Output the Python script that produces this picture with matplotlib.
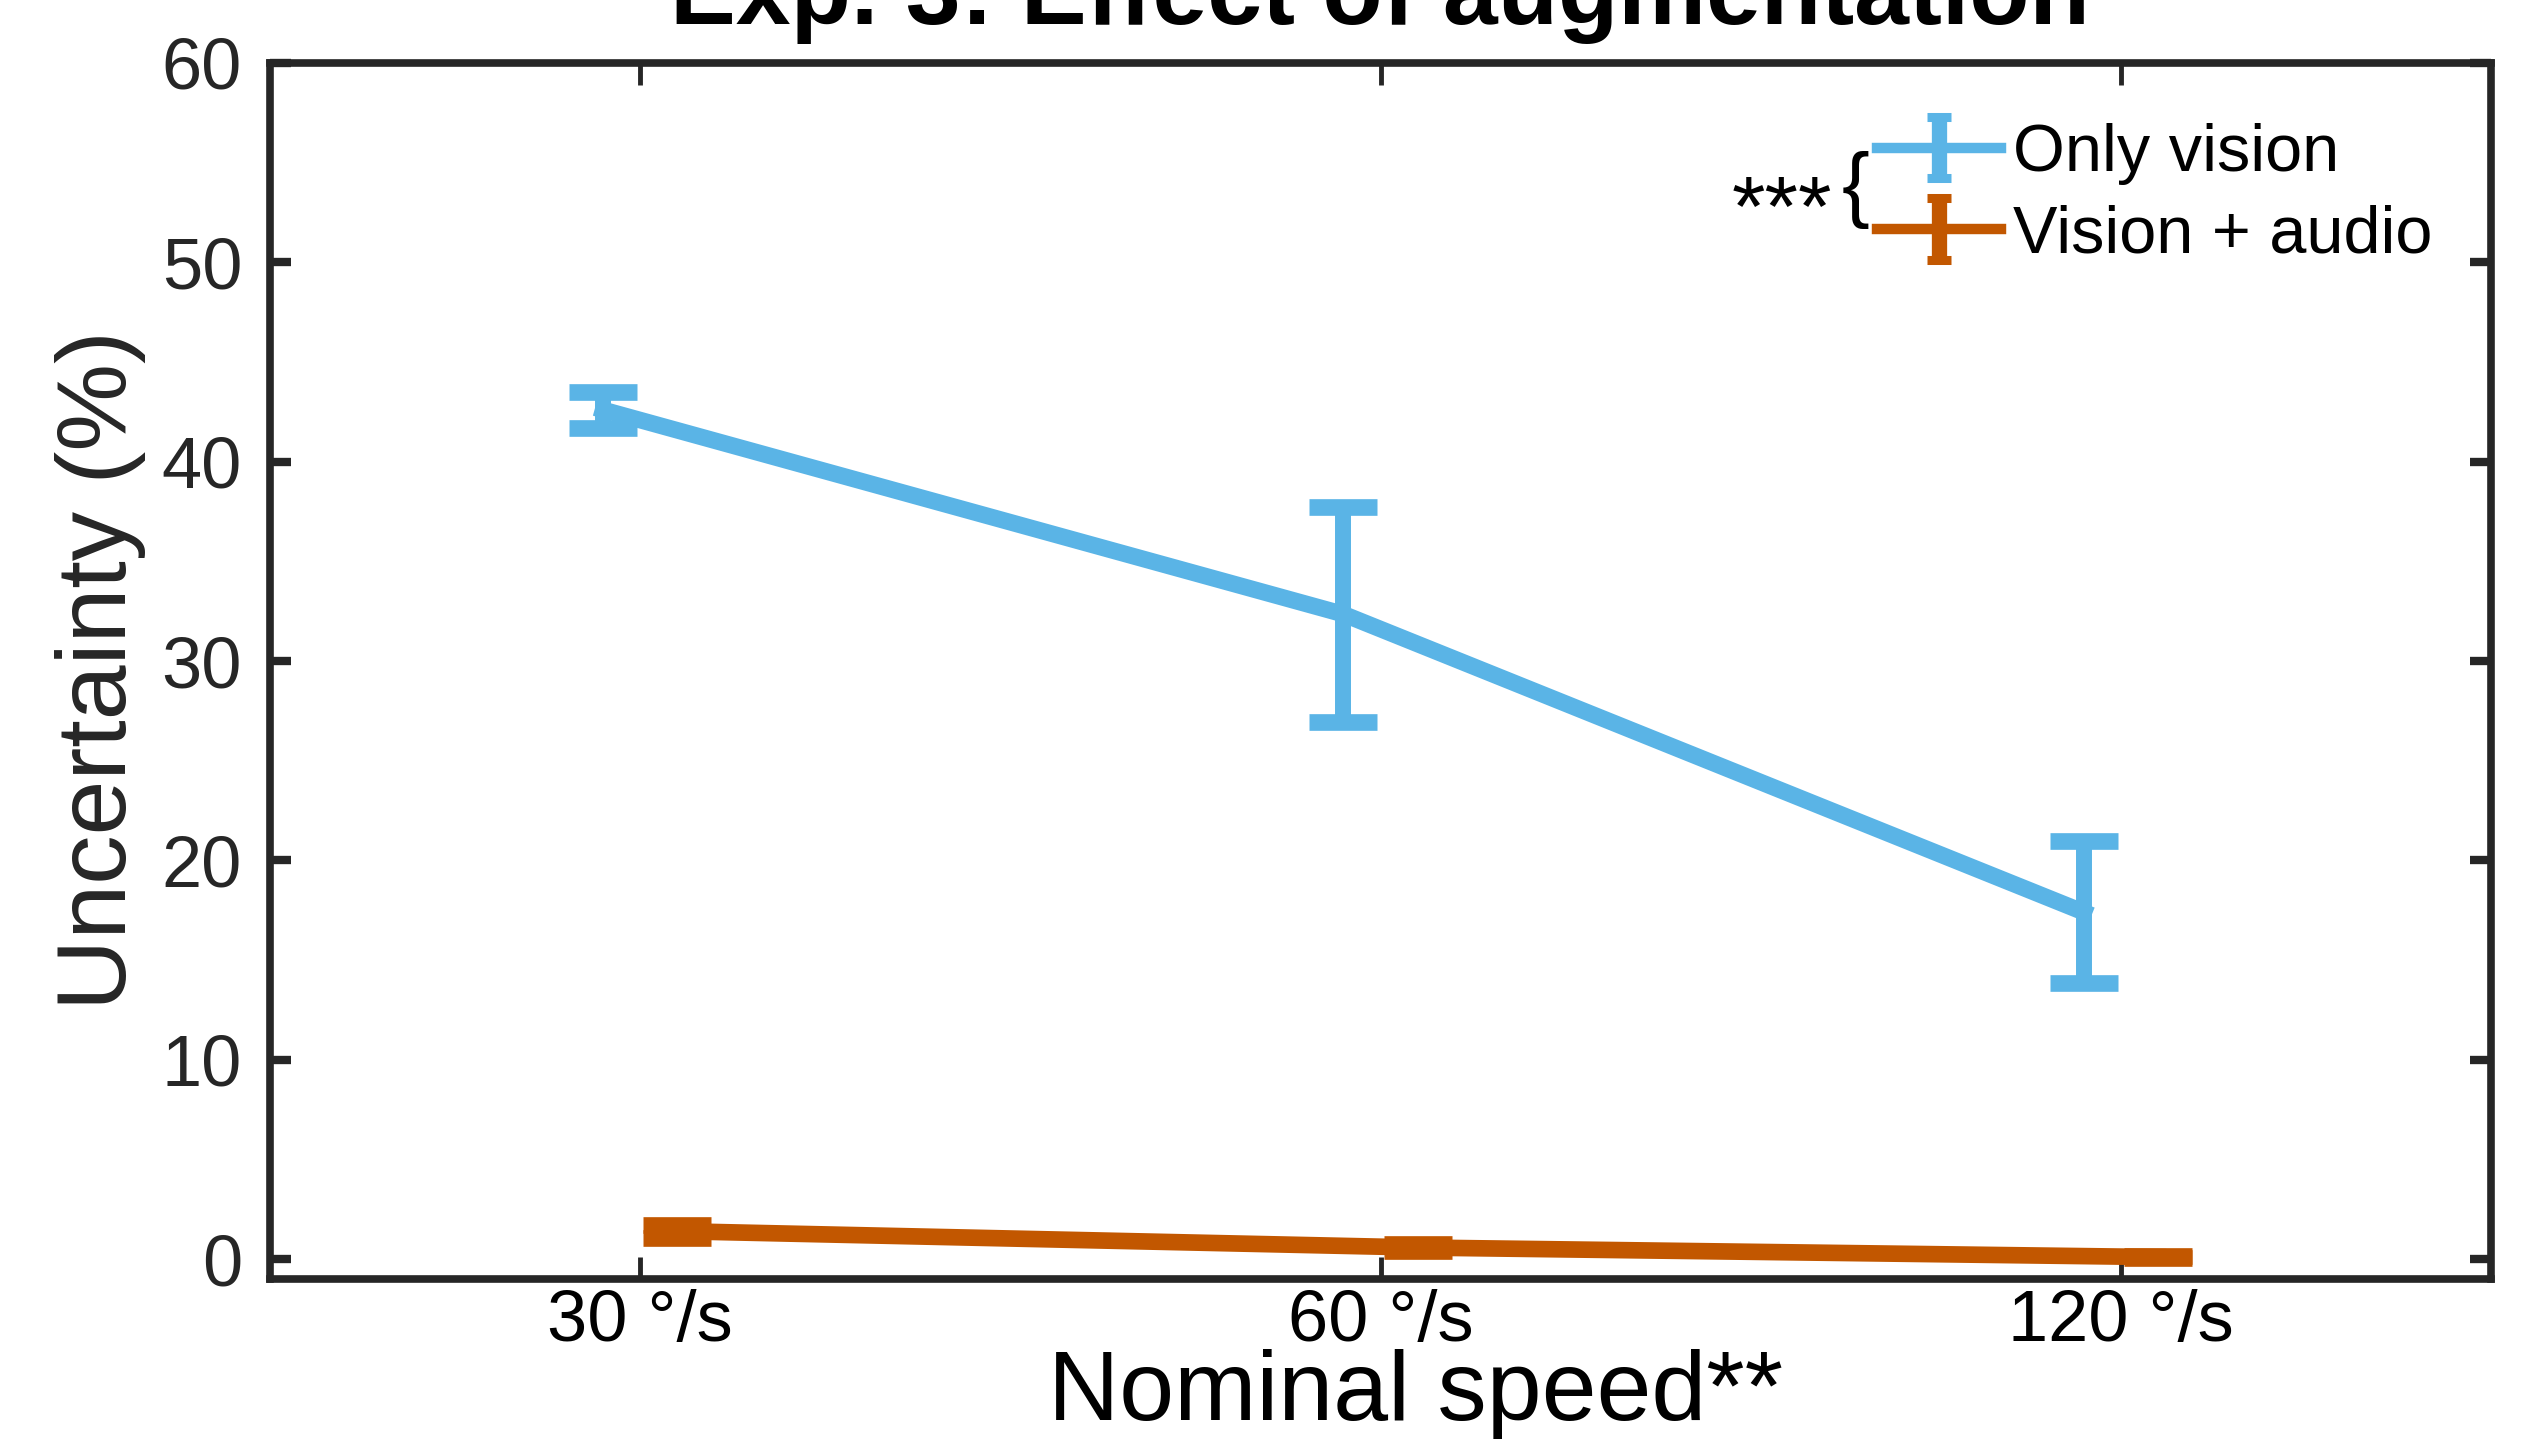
import numpy as np
import matplotlib as mpl
from matplotlib import pyplot as plt
from matplotlib.legend_handler import HandlerErrorbar
from matplotlib.lines import Line2D
from matplotlib.collections import LineCollection

mpl.rcParams['font.family'] = ['Liberation Sans', 'DejaVu Sans']

# data
speed_labels = ['30 °/s', '60 °/s', '120 °/s']
vision_mean = [42.6, 32.35, 17.4]
vision_err = [0.9, 5.4, 3.55]
audio_mean = [1.4, 0.58, 0.1]
audio_err = [0.33, 0.2, 0.05]

blue = '#5AB4E6'
orange = '#C25700'
axis_color = '#262626'

W, H = 2531, 1439
dpi = 100
fig = plt.figure(figsize=(W / dpi, H / dpi), dpi=dpi)
ax = fig.add_axes([270 / W, 1 - 1279 / H, (2491 - 270) / W, (1279 - 63) / H])

x = np.arange(1, len(speed_labels) + 1)
offset = 0.05
style = dict(linewidth=12, elinewidth=11.5, capsize=24.5, capthick=12)
ax.errorbar(x - offset, vision_mean, yerr=vision_err, color=blue,
            label='Only vision', **style)
ax.errorbar(x + offset, audio_mean, yerr=audio_err, color=orange,
            label='Vision + audio', **style)

ax.set_xlim(0.5, 3.5)
ax.set_ylim(-1, 60)
ax.set_xticks(x)
ax.set_xticklabels(speed_labels)
ax.set_yticks(np.arange(0, 61, 10))

for s in ax.spines.values():
    s.set_linewidth(5.5)
    s.set_color(axis_color)
ax.tick_params(axis='x', direction='in', top=True, length=16, width=3.5,
               colors=axis_color, labelsize=52, pad=7, labelcolor='black')
ax.tick_params(axis='y', direction='in', right=True, length=15, width=6,
               colors=axis_color, labelsize=52, pad=20)


# legend handles are drawn thinner than the plotted lines
def legend_style(handle, orig):
    handle.update_from(orig)
    if isinstance(handle, Line2D):
        if orig.get_marker() == '_':
            handle.set_markersize(17)
            handle.set_markeredgewidth(6.5)
        else:
            handle.set_linewidth(7.5)
    elif isinstance(handle, LineCollection):
        handle.set_linewidth(11)


leg = ax.legend(handler_map={mpl.container.ErrorbarContainer:
                             HandlerErrorbar(yerr_size=0.46, update_func=legend_style)},
                loc='upper left', bbox_to_anchor=((1877 - 270) / (2491 - 270), 1 - (123 - 63) / (1279 - 63)),
                frameon=False, fontsize=48, handlelength=1.86, handletextpad=0.18,
                labelspacing=0.29, borderpad=0, borderaxespad=0)

# significance marker next to the legend
fig.text(1782 / W, 1 - 236 / H, '***', fontsize=62, ha='center', va='baseline')
fig.text(1856 / W, 1 - 190 / H, '{', fontsize=60, ha='center', va='center')

fig.text(1380 / W, 1 - 24 / H, 'Exp. 3: Effect of augmentation', fontsize=71,
         fontweight='bold', ha='center', va='baseline')
fig.text(1416 / W, 1 - 1420 / H, 'Nominal speed**', fontsize=71,
         ha='center', va='baseline')
fig.text(55 / W, 1 - 670 / H, 'Uncertainty (%)', fontsize=71, rotation=90,
         ha='left', va='center', color=axis_color)

fig.savefig('out.png', dpi=dpi)
